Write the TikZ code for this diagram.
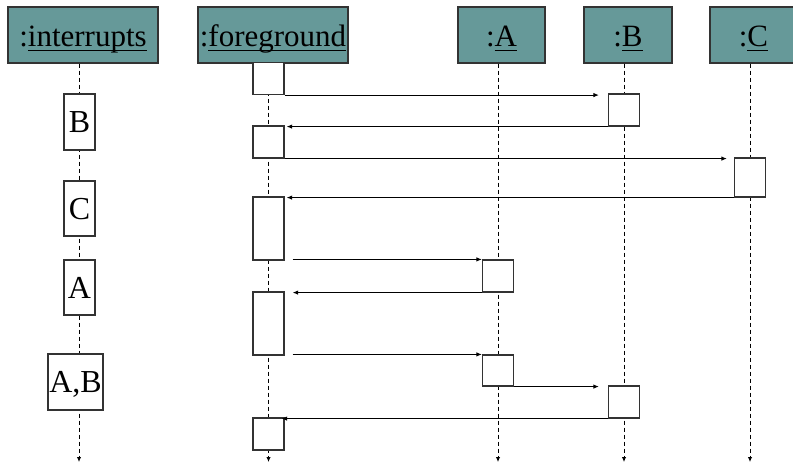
\documentclass[tikz,border=0pt]{standalone}
\usepackage{fontspec}
\setmainfont{Liberation Serif}
\usetikzlibrary{arrows.meta}

% underline at a fixed depth, crossing the descenders
\newcommand\nameline[1]{\setbox0\hbox{#1}\rlap{\rule[-4.5pt]{\wd0}{1.4pt}}\box0}

\definecolor{objteal}{RGB}{102,153,153}
\definecolor{edgegrey}{RGB}{51,51,51}

\begin{document}
\begin{tikzpicture}[x=1pt,y=-1pt,
  objbox/.style={draw=edgegrey,fill=objteal,line width=1.1pt,inner sep=0pt,
    minimum height=56pt,text height=24pt,text depth=0pt,
    font=\fontsize{31}{36}\selectfont},
  act/.style={draw=edgegrey,fill=white,line width=1.2pt,inner sep=0pt,minimum width=31pt},
  intr/.style={act,text height=21pt,text depth=0pt,font=\fontsize{32}{36}\selectfont},
  life/.style={draw=black,line width=0.9pt,dash pattern=on 4pt off 3pt,
    -{Latex[length=5pt,width=4.5pt]}},
  msg/.style={draw=black,line width=1pt,-{Latex[length=5.5pt,width=4.5pt]}}]
\useasboundingbox (0,0) rectangle (793,468);

% object headers
\node[objbox,minimum width=150pt] (hi) at (83,35)    {:\nameline{interrupts}};
\node[objbox,minimum width=150pt] (hf) at (273,35)   {:\nameline{foreground}};
\node[objbox,minimum width=87pt]  (hA) at (501.5,35) {:\nameline{A}};
\node[objbox,minimum width=88pt]  (hB) at (628,35)   {:\nameline{B}};
\node[objbox,minimum width=87pt]  (hC) at (753.5,35) {:\nameline{C}};

% lifeline ends
\coordinate (ei) at (79,462);
\coordinate (ef) at (268.5,462);
\coordinate (eA) at (498,462);
\coordinate (eB) at (624,462);
\coordinate (eC) at (750,462);

% lifelines
\draw[life] (hi.south -| ei) -- (ei);
\draw[life] (hf.south -| ef) -- (ef);
\draw[life] (hA.south -| eA) -- (eA);
\draw[life] (hB.south -| eB) -- (eB);
\draw[life] (hC.south -| eC) -- (eC);

% interrupt occurrences
\node[intr,minimum height=56pt] (ib)  at (79.5,122)   {B};
\node[intr,minimum height=55pt] (ic)  at (79.5,208.5) {C};
\node[intr,minimum height=55pt] (ia)  at (79.5,287.5) {A};
\node[intr,minimum height=56pt,minimum width=55pt] (iab) at (75.5,382) {A,B};

% activations of foreground
\node[act,minimum height=32pt] (f1) at (268.5,78.5)  {};
\node[act,minimum height=32pt] (f2) at (268.5,142)   {};
\node[act,minimum height=63pt] (f3) at (268.5,228.5) {};
\node[act,minimum height=63pt] (f4) at (268.5,323.5) {};
\node[act,minimum height=32pt] (f5) at (268.5,434)   {};

% activations of A, B, C
\node[act,minimum height=32pt] (a1) at (498,276)   {};
\node[act,minimum height=31pt] (a2) at (498,370.5) {};
\node[act,minimum height=32pt] (b1) at (624,110)   {};
\node[act,minimum height=32pt] (b2) at (624,402)   {};
\node[act,minimum height=39pt] (c1) at (750,177.5) {};

% message end points, level with the sending activation
\path (f1.south east -| b1.west) coordinate (t1);
\path (b1.south west -| f2.east) coordinate (t2);
\path (f2.south east -| c1.west) coordinate (t3);
\path (c1.south west -| f3.east) coordinate (t4);
\path (a1.north west -| f3.east) coordinate (s5);
\path (a1.south west -| f4.east) coordinate (t6);
\path (a2.north west -| f4.east) coordinate (s7);
\path (a2.south east -| b2.west) coordinate (t8);
\path (b2.south west -| f5.east) coordinate (t9);

% messages
\draw[msg] (f1.south east) -- ([xshift=-9pt]t1);
\draw[msg] (b1.south west) -- ([xshift=2pt]t2);
\draw[msg] (f2.south east) -- ([xshift=-7pt]t3);
\draw[msg] (c1.south west) -- ([xshift=2pt]t4);
\draw[msg] ([xshift=8pt]s5) -- (a1.north west);
\draw[msg] (a1.south west) -- ([xshift=8pt]t6);
\draw[msg] ([xshift=8pt]s7) -- (a2.north west);
\draw[msg] (a2.south east) -- ([xshift=-9pt]t8);
\draw[msg] (b2.south west) -- ([xshift=-3pt]t9);
\end{tikzpicture}
\end{document}
